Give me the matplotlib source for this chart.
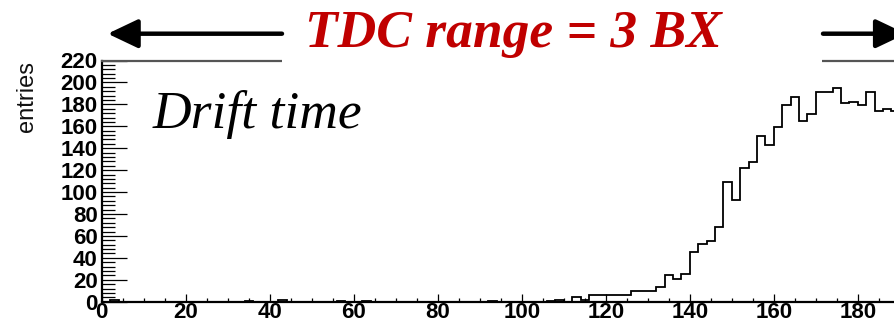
import numpy as np
import matplotlib
matplotlib.use("Agg")
import matplotlib.pyplot as plt
from matplotlib.patches import Rectangle, FancyArrowPatch
from matplotlib.ticker import MultipleLocator

# ---- data: drift-time histogram, bins of width 2 starting at 0 ----
bin_width = 2
counts = {
    2: 2, 34: 1, 42: 2, 56: 1, 62: 1, 92: 1,
    106: 1, 108: 2, 112: 4, 114: 2,
    116: 6, 118: 6, 120: 6, 122: 6, 124: 6,
    126: 10, 128: 10, 130: 10, 132: 13, 134: 24, 136: 21, 138: 25,
    140: 45, 142: 53, 144: 55, 146: 68, 148: 109, 150: 93, 152: 122,
    154: 127, 156: 151, 158: 143, 160: 159, 162: 179, 164: 187,
    166: 165, 168: 171, 170: 191, 172: 191, 174: 195, 176: 181,
    178: 182, 180: 179, 182: 191, 184: 174, 186: 176, 188: 174,
}
edges = np.arange(0, 190 + bin_width, bin_width)
values = np.array([counts.get(int(e), 0) for e in edges[:-1]], dtype=float)

x_ticks = [0, 20, 40, 60, 80, 100, 120, 140, 160, 180]
y_ticks = list(range(0, 221, 20))
y_label = "entries"
plot_label = "Drift time"
title_text = "TDC range = 3 BX"

W, H = 894, 324
fig = plt.figure(figsize=(W / 100, H / 100), dpi=100)
fig.patch.set_facecolor("white")

ax_left = 101.7 / W
ax_bottom = (H - 301.7) / H
ax_top = (H - 60.5) / H
ax = fig.add_axes([ax_left, ax_bottom, 1 - ax_left, ax_top - ax_bottom])

ax.stairs(values, edges, color="black", lw=1.3, baseline=None)

ax.set_xlim(0, (W - 101.7) / 4.2)
ax.set_ylim(0, 220)

ax.set_xticks(x_ticks)
ax.set_yticks(y_ticks)
ax.xaxis.set_minor_locator(MultipleLocator(5))
ax.yaxis.set_minor_locator(MultipleLocator(4))

tick_font = dict(family="Liberation Sans", weight="bold", size=16)
ax.set_xticklabels([str(v) for v in x_ticks], fontdict=tick_font)
ax.set_yticklabels([str(v) for v in y_ticks], fontdict=tick_font)

ax.tick_params(axis="y", which="major", direction="in", length=18, width=0.9, pad=3.0)
ax.tick_params(axis="y", which="minor", direction="in", length=9.5, width=0.9)
ax.tick_params(axis="x", which="major", direction="in", length=6, width=0.9, pad=0.0)
ax.tick_params(axis="x", which="minor", direction="in", length=3, width=0.9)

for s in ("left", "bottom"):
    ax.spines[s].set_linewidth(1.6)
    ax.spines[s].set_color("black")
ax.spines["top"].set_linewidth(1.6)
ax.spines["top"].set_color("#555555")
ax.spines["right"].set_visible(False)

# y axis label (ROOT style, aligned to top)
fig.text(27.5 / W, (H - 61.5) / H, y_label, rotation=90, ha="center", va="top",
         family="Liberation Sans", fontsize=17, color="#111111")

# "Drift time" label
fig.text(153 / W, (H - 128.3) / H, plot_label, ha="left", va="baseline",
         family="Liberation Serif", style="italic", fontsize=38.5, color="black")

# white band hiding the top frame behind the title
fig.add_artist(Rectangle((282 / W, (H - 66) / H), (822 - 282) / W, 12 / H,
                         transform=fig.transFigure, facecolor="white",
                         edgecolor="none", zorder=10))

# title
fig.text(305 / W, (H - 46.7) / H, title_text, ha="left", va="baseline",
         family="Liberation Serif", style="italic", weight="bold",
         fontsize=38.5, color="#C00000", zorder=11)

# arrows
y_arrow = (H - 33.7) / H
style = "-|>,head_length=18.5,head_width=8.8"
left_arrow = FancyArrowPatch((282 / W, y_arrow), (107.7 / W, y_arrow),
                             transform=fig.transFigure, arrowstyle=style,
                             mutation_scale=1, lw=3.2, color="black",
                             shrinkA=0, shrinkB=0, zorder=12)
right_arrow = FancyArrowPatch((823 / W, y_arrow), (906 / W, y_arrow),
                              transform=fig.transFigure, arrowstyle=style,
                              mutation_scale=1, lw=3.2, color="black",
                              shrinkA=0, shrinkB=0, zorder=12)
fig.add_artist(left_arrow)
fig.add_artist(right_arrow)

fig.savefig("out.png", dpi=100, facecolor="white")
